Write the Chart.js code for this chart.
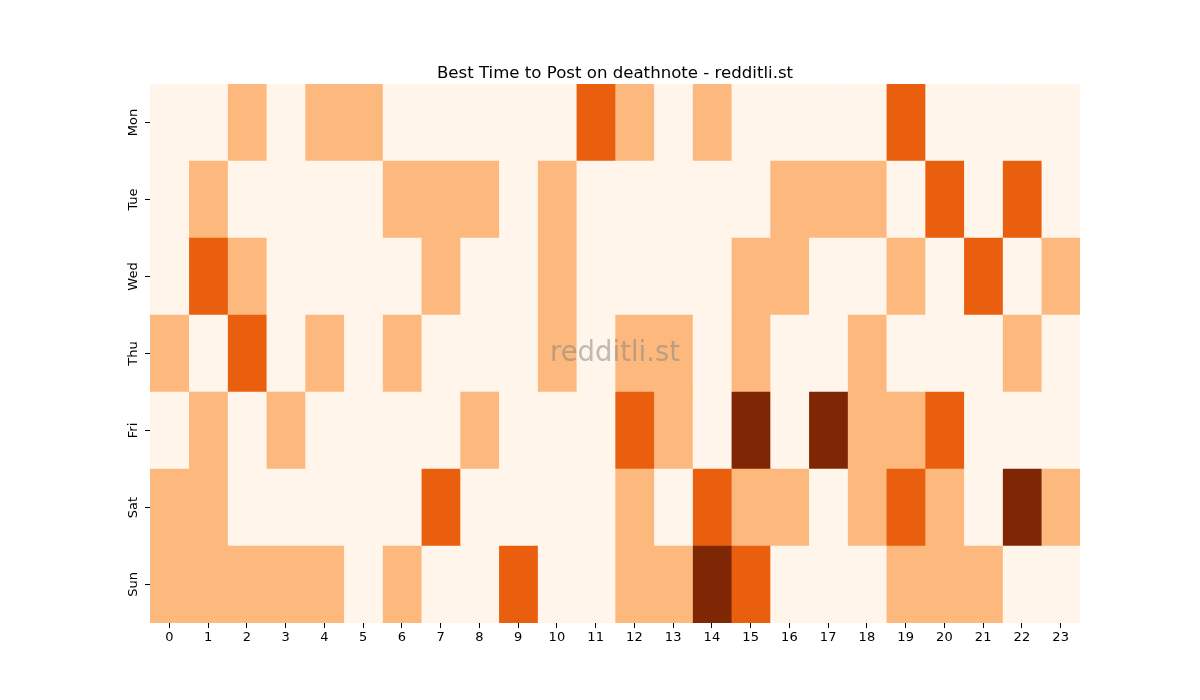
<!DOCTYPE html>
<html>
<head>
<meta charset="utf-8">
<script src="https://cdn.jsdelivr.net/npm/chart.js@4"></script>
<style>
  html, body { margin: 0; padding: 0; background: #fff; }
  #wrap { width: 1200px; height: 700px; }
</style>
</head>
<body>
<div id="wrap"><canvas id="heat"></canvas></div>
<script>
// rows / columns
var days = ['Mon', 'Tue', 'Wed', 'Thu', 'Fri', 'Sat', 'Sun'];
var hours = [0, 1, 2, 3, 4, 5, 6, 7, 8, 9, 10, 11, 12, 13, 14, 15, 16, 17, 18, 19, 20, 21, 22, 23];

// post score per hour (0..3)
var mon = [0,0,1,0,1,1,0,0,0,0,0,2,1,0,1,0,0,0,0,2,0,0,0,0];
var tue = [0,1,0,0,0,0,1,1,1,0,1,0,0,0,0,0,1,1,1,0,2,0,2,0];
var wed = [0,2,1,0,0,0,0,1,0,0,1,0,0,0,0,1,1,0,0,1,0,2,0,1];
var thu = [1,0,2,0,1,0,1,0,0,0,1,0,1,1,0,1,0,0,1,0,0,0,1,0];
var fri = [0,1,0,1,0,0,0,0,1,0,0,0,2,1,0,3,0,3,1,1,2,0,0,0];
var sat = [1,1,0,0,0,0,0,2,0,0,0,0,1,0,2,1,1,0,1,2,1,0,3,1];
var sun = [1,1,1,1,1,0,1,0,0,2,0,0,1,1,3,2,0,0,0,1,1,1,0,0];

var levelColors = ['#fff5eb', '#fdb97d', '#e95f0e', '#7f2704'];
var titleText = 'Best Time to Post on deathnote - redditli.st';

var grid = [mon, tue, wed, thu, fri, sat, sun];

// one stacked segment per hour, each one unit wide
var datasets = hours.map(function (h, i) {
  return {
    label: String(h),
    data: days.map(function () { return 1; }),
    backgroundColor: grid.map(function (row) { return levelColors[row[i]]; }),
    borderWidth: 0,
    barPercentage: 1,
    categoryPercentage: 1
  };
});

// title centred over the plot area + watermark
var overlay = {
  id: 'overlay',
  afterDatasetsDraw: function (chart) {
    var a = chart.chartArea;
    var ctx = chart.ctx;
    var cx = (a.left + a.right) / 2;
    ctx.save();
    ctx.textAlign = 'center';
    ctx.textBaseline = 'middle';
    ctx.font = '27.5px "DejaVu Sans"';
    ctx.fillStyle = 'rgba(128,128,128,0.5)';
    ctx.fillText('redditli.st', cx, (a.top + a.bottom) / 2);
    ctx.font = '16.6px "DejaVu Sans"';
    ctx.fillStyle = '#000';
    ctx.textBaseline = 'alphabetic';
    ctx.fillText(titleText, cx, a.top - 6);
    ctx.restore();
  }
};

Chart.defaults.font.family = '"DejaVu Sans", sans-serif';
Chart.defaults.color = '#000';

var chart = new Chart(document.getElementById('heat'), {
  type: 'bar',
  data: { labels: days, datasets: datasets },
  plugins: [overlay],
  options: {
    indexAxis: 'y',
    responsive: true,
    maintainAspectRatio: false,
    animation: false,
    layout: { padding: { left: 0, right: 120, top: 84, bottom: 0 } },
    plugins: {
      legend: { display: false },
      tooltip: { enabled: false },
      title: { display: false }
    },
    scales: {
      x: {
        type: 'linear',
        stacked: true,
        min: 0,
        max: 24,
        afterBuildTicks: function (scale) {
          scale.ticks = hours.map(function (h) { return { value: h + 0.5 }; });
        },
        afterFit: function (scale) { scale.height = 77; },
        ticks: {
          autoSkip: false,
          maxRotation: 0,
          padding: 2,
          font: { size: 13 },
          callback: function (v) { return String(hours[Math.floor(v)]); }
        },
        grid: { drawOnChartArea: false, drawTicks: true, tickLength: 5, color: '#000' },
        border: { display: false }
      },
      y: {
        stacked: true,
        afterFit: function (scale) { scale.width = 150; },
        ticks: {
          minRotation: 90,
          maxRotation: 90,
          crossAlign: 'center',
          padding: -3,
          font: { size: 13 }
        },
        grid: { offset: false, drawOnChartArea: false, drawTicks: true, tickLength: 5, color: '#000' },
        border: { display: false }
      }
    }
  }
});
</script>
</body>
</html>
